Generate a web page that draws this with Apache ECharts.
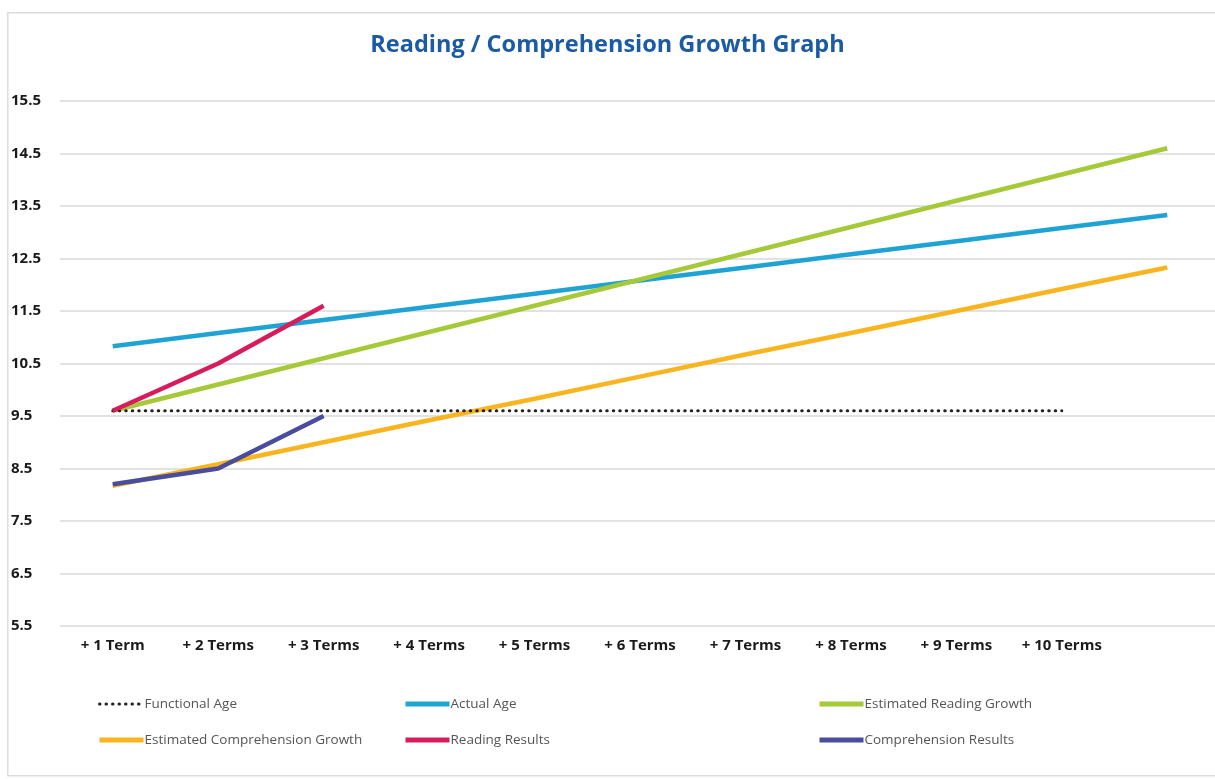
<!DOCTYPE html>
<html>
<head>
<meta charset="utf-8">
<title>Reading / Comprehension Growth Graph</title>
<script src="https://cdn.jsdelivr.net/npm/echarts@6/dist/echarts.min.js"></script>
<style>
  html, body { margin: 0; padding: 0; background: #fff; }
  #chart { width: 1215px; height: 779px; }
</style>
</head>
<body>
<div id="chart"></div>
<script>
// categories (last slot has no label, the projection lines end there)
const terms = ['+ 1 Term', '+ 2 Terms', '+ 3 Terms', '+ 4 Terms', '+ 5 Terms',
    '+ 6 Terms', '+ 7 Terms', '+ 8 Terms', '+ 9 Terms', '+ 10 Terms', ''];

const functionalAge = [9.6, 9.6, 9.6, 9.6, 9.6, 9.6, 9.6, 9.6, 9.6, 9.6, null];
const actualAge = [10.83, 11.08, 11.33, 11.58, 11.83, 12.08, 12.33, 12.58, 12.83, 13.08, 13.33];
const estReadingGrowth = [9.6, 10.1, 10.6, 11.1, 11.6, 12.1, 12.6, 13.1, 13.6, 14.1, 14.6];
const estComprehensionGrowth = [8.17, 8.58, 9.0, 9.42, 9.83, 10.25, 10.67, 11.08, 11.5, 11.92, 12.33];
const readingResults = [9.6, 10.5, 11.6];
const comprehensionResults = [8.2, 8.5, 9.5];

const yTicks = { min: 5.5, max: 15.5, step: 1 };

const chart = echarts.init(document.getElementById('chart'));

const legendText = { color: '#555', fontSize: 13.5, fontFamily: 'Open Sans', padding: [0, 0, 0, -4] };
// thick swatches, except the dotted one which stays fine
const legendItem = name => name === 'Functional Age'
    ? { name: name, lineStyle: { width: 3 } }
    : { name: name, lineStyle: { width: 5 } };
const mkLegend = (left, names) => ({
    orient: 'vertical', left: left, top: 692, itemGap: 22,
    itemWidth: 44, itemHeight: 14, textStyle: legendText, data: names.map(legendItem),
    itemStyle: { opacity: 0, color: 'transparent', borderWidth: 0 }
});

const line = (name, data, color, extra) => Object.assign({
    name: name, type: 'line', data: data, symbol: 'none',
    lineStyle: { color: color, width: 4.5 }, itemStyle: { color: color },
    emphasis: { disabled: true }
}, extra || {});

chart.setOption({
    backgroundColor: '#fff',
    animation: false,
    graphic: [{
        type: 'rect', left: 7, top: 12, z: -1,
        shape: { width: 1230, height: 763 },
        style: { fill: '#fff', stroke: '#dcdcdc', lineWidth: 1.5 }
    }],
    title: {
        text: 'Reading / Comprehension Growth Graph', left: 'center', top: 28,
        textStyle: { color: '#1b5aa5', fontSize: 23.5, fontWeight: 'bold', fontFamily: 'Open Sans' }
    },
    grid: { left: 60, top: 101, width: 1160, height: 525, outerBoundsMode: 'none' },
    xAxis: {
        type: 'category', data: terms, boundaryGap: true,
        axisLine: { show: false }, axisTick: { show: false },
        axisLabel: { color: '#1a1a1a', fontSize: 15, fontWeight: 'bold', fontFamily: 'Open Sans', margin: 12, interval: 0 }
    },
    yAxis: {
        type: 'value', min: yTicks.min, max: yTicks.max, interval: yTicks.step,
        axisLine: { show: false }, axisTick: { show: false },
        axisLabel: { color: '#1a1a1a', fontSize: 15, fontWeight: 'bold', fontFamily: 'Open Sans',
            align: 'left', margin: 49, formatter: v => v.toFixed(1) },
        splitLine: { lineStyle: { color: '#d9d9d9', width: 1.5 } }
    },
    legend: [
        mkLegend(92, ['Functional Age', 'Estimated Comprehension Growth']),
        mkLegend(398, ['Actual Age', 'Reading Results']),
        mkLegend(812, ['Estimated Reading Growth', 'Comprehension Results'])
    ],
    series: [
        line('Actual Age', actualAge, '#1fa3d5'),
        line('Estimated Reading Growth', estReadingGrowth, '#a6c93a'),
        line('Estimated Comprehension Growth', estComprehensionGrowth, '#f8b520'),
        line('Functional Age', functionalAge, '#222', {
            lineStyle: { color: '#222', width: 3, type: [0.5, 6], cap: 'round' }
        }),
        line('Reading Results', readingResults, '#d81c5b'),
        line('Comprehension Results', comprehensionResults, '#4a4c9e')
    ]
});

window.onresize = () => chart.resize();
</script>
</body>
</html>
